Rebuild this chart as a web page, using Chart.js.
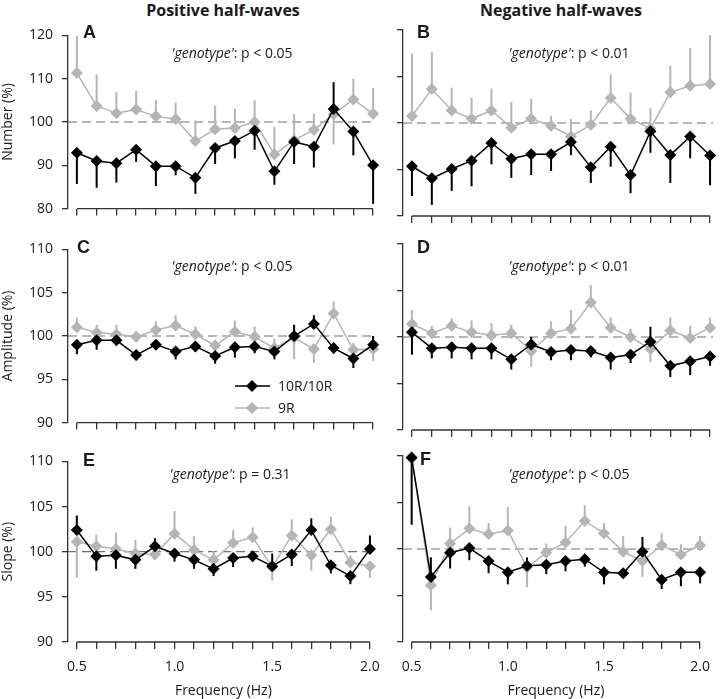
<!DOCTYPE html>
<html>
<head>
<meta charset="utf-8">
<script src="https://cdn.jsdelivr.net/npm/chart.js@4.4.0/dist/chart.umd.min.js"></script>
<style>
  body { margin: 0; background: #fff; }
  #wrap { position: relative; width: 720px; height: 699px; overflow: hidden; font-family: 'Open Sans', sans-serif; color: #1a1a1a; }
  #wrap canvas { position: absolute; }
  .hdr { position: absolute; font-weight: bold; font-size: 16px; transform: translate(-50%, -50%); white-space: nowrap; }
  .letter { position: absolute; font-family: 'Liberation Sans', Arial, sans-serif; font-weight: bold; font-size: 18px; line-height: 18px; }
  .stat { position: absolute; font-size: 14px; transform: translate(-50%, -50%); white-space: nowrap; }
</style>
</head>
<body>
<div id="wrap">
  <div class="hdr" style="left:223px; top:10px;">Positive half-waves</div>
  <div class="hdr" style="left:561px; top:10px;">Negative half-waves</div>

  <canvas id="cA" width="390" height="208" style="left:0; top:18px;"></canvas>
  <canvas id="cB" width="330" height="208" style="left:390px; top:18px;"></canvas>
  <canvas id="cC" width="390" height="208" style="left:0; top:232px;"></canvas>
  <canvas id="cD" width="330" height="208" style="left:390px; top:232px;"></canvas>
  <canvas id="cE" width="390" height="255" style="left:0; top:444px;"></canvas>
  <canvas id="cF" width="330" height="255" style="left:390px; top:444px;"></canvas>

  <div class="letter" style="left:83px; top:23px;">A</div>
  <div class="letter" style="left:417px; top:23px;">B</div>
  <div class="letter" style="left:77px; top:238px;">C</div>
  <div class="letter" style="left:417px; top:238px;">D</div>
  <div class="letter" style="left:83px; top:451px;">E</div>
  <div class="letter" style="left:420px; top:450px;">F</div>

  <div class="stat" style="left:232px; top:52px;"><i>'genotype'</i>: p &lt; 0.05</div>
  <div class="stat" style="left:569px; top:52px;"><i>'genotype'</i>: p &lt; 0.01</div>
  <div class="stat" style="left:232px; top:265px;"><i>'genotype'</i>: p &lt; 0.05</div>
  <div class="stat" style="left:569px; top:265px;"><i>'genotype'</i>: p &lt; 0.01</div>
  <div class="stat" style="left:230px; top:473px;"><i>'genotype'</i>: p = 0.31</div>
  <div class="stat" style="left:569px; top:473px;"><i>'genotype'</i>: p &lt; 0.05</div>
</div>

<script>
const freqs = [0.5, 0.6, 0.7, 0.8, 0.9, 1.0, 1.1, 1.2, 1.3, 1.4, 1.5, 1.6, 1.7, 1.8, 1.9, 2.0];
const freqLabels = [0.5, 1.0, 1.5, 2.0];
const numberTicks = [80, 90, 100, 110, 120];
const percentTicks = [90, 95, 100, 105, 110];
const seriesNames = ['10R/10R', '9R'];

// A: number, positive half-waves
const numPos10R = [92.9, 91.0, 90.5, 93.6, 89.8, 89.8, 87.1, 94.0, 95.6, 98.0, 88.6, 95.4, 94.3, 103.0, 97.8, 90.0];
const numPos10RSem = [7.2, 6.2, 4.5, 2.8, 4.6, 2.1, 3.7, 3.7, 4.0, 4.4, 3.1, 5.1, 4.8, 6.2, 5.5, 8.9];
const numPos9R = [111.3, 103.7, 102.0, 102.9, 101.3, 100.7, 95.6, 98.3, 98.6, 100.0, 92.5, 95.8, 98.2, 101.8, 105.2, 101.9];
const numPos9RSem = [8.6, 7.3, 4.9, 4.3, 3.8, 3.8, 4.8, 5.5, 4.5, 5.0, 6.3, 6.0, 3.7, 7.0, 4.8, 6.0];

// B: number, negative half-waves
const numNeg10R = [90.7, 88.1, 90.1, 91.9, 95.7, 92.3, 93.3, 93.3, 95.9, 90.5, 94.9, 88.8, 98.2, 93.1, 97.1, 93.0];
const numNeg10RSem = [6.4, 5.7, 4.7, 5.5, 4.6, 4.1, 4.5, 3.6, 2.8, 3.4, 4.3, 3.9, 4.6, 6.0, 4.7, 6.4];
const numNeg9R = [101.5, 107.3, 102.7, 100.9, 102.7, 99.0, 100.9, 99.4, 97.1, 99.6, 105.4, 100.9, 98.8, 106.6, 108.0, 108.4];
const numNeg9RSem = [13.4, 7.9, 4.9, 4.5, 4.7, 5.5, 4.3, 2.1, 3.8, 3.1, 5.0, 5.6, 4.4, 5.7, 8.1, 10.5];

// C: amplitude, positive
const ampPos10R = [99.0, 99.5, 99.5, 97.8, 99.0, 98.2, 98.8, 97.7, 98.7, 98.8, 98.2, 100.0, 101.4, 98.6, 97.4, 99.0];
const ampPos10RSem = [1.1, 1.1, 0.4, 0.6, 0.6, 0.9, 0.6, 0.9, 1.2, 0.8, 0.9, 1.3, 1.0, 0.6, 1.1, 1.0];
const ampPos9R = [101.0, 100.4, 100.2, 99.9, 100.7, 101.2, 100.2, 98.9, 100.5, 99.9, 98.6, 99.8, 98.5, 102.6, 98.4, 98.5];
const ampPos9RSem = [1.1, 0.9, 1.1, 0.6, 1.0, 1.2, 0.9, 0.7, 1.3, 1.2, 1.1, 2.5, 1.6, 1.4, 0.8, 1.4];

// D: amplitude, negative
const ampNeg10R = [100.5, 98.8, 98.9, 98.8, 98.8, 97.6, 99.2, 98.4, 98.6, 98.5, 97.8, 98.1, 99.5, 96.9, 97.4, 97.9];
const ampNeg10RSem = [2.4, 1.1, 1.2, 1.2, 1.2, 1.1, 0.8, 0.9, 1.1, 0.7, 1.3, 0.9, 1.6, 1.2, 1.5, 1.0];
const ampNeg9R = [101.4, 100.4, 101.2, 100.5, 100.2, 100.4, 98.5, 100.4, 100.9, 103.7, 101.0, 100.0, 98.7, 100.7, 99.9, 101.0];
const ampNeg9RSem = [1.5, 0.8, 0.8, 1.3, 1.3, 0.9, 1.7, 1.3, 2.0, 1.9, 1.1, 0.9, 1.4, 1.4, 1.3, 1.1];

// E: slope, positive
const slopePos10R = [102.4, 99.5, 99.6, 99.1, 100.6, 99.8, 99.1, 98.1, 99.3, 99.5, 98.4, 99.7, 102.4, 98.5, 97.3, 100.3];
const slopePos10RSem = [1.6, 1.6, 1.5, 1.0, 0.9, 0.9, 1.0, 0.8, 1.0, 0.6, 1.4, 1.3, 1.3, 0.9, 0.9, 1.5];
const slopePos9R = [101.1, 100.6, 100.3, 99.8, 99.7, 102.0, 100.2, 99.1, 101.0, 101.6, 98.3, 101.8, 99.6, 102.5, 98.8, 98.4];
const slopePos9RSem = [4.0, 1.3, 1.8, 1.5, 0.6, 2.5, 1.5, 1.0, 1.4, 1.1, 1.5, 1.8, 1.7, 1.4, 0.8, 1.3];

// F: slope, negative
const slopeNeg10R = [109.8, 97.0, 99.6, 100.1, 98.7, 97.5, 98.2, 98.3, 98.7, 98.9, 97.5, 97.4, 99.7, 96.7, 97.5, 97.5];
const slopeNeg10RSem = [7.2, 2.1, 1.7, 1.3, 1.3, 1.3, 0.9, 1.0, 1.1, 0.8, 1.3, 0.4, 1.6, 1.0, 1.5, 1.2];
const slopeNeg9R = [109.9, 96.1, 100.6, 102.2, 101.6, 102.0, 98.0, 99.6, 100.7, 103.0, 101.7, 99.7, 98.7, 100.4, 99.4, 100.4];
const slopeNeg9RSem = [0.5, 2.7, 1.7, 2.4, 1.2, 2.5, 2.1, 1.0, 1.8, 1.7, 1.1, 1.7, 1.7, 1.3, 1.1, 1.0];

const BLACK = '#000000';
const GRAY = '#b5b5b5';
const AXIS = '#333333';
const TEXT = '#1a1a1a';
const FONT = 'Open Sans';

// error bars point away from the other genotype's curve, dashed 100% line, R-style x axis
const panelDecor = {
    id: 'panelDecor',
    beforeDatasetsDraw(chart) {
        const { ctx, chartArea, scales: { x, y } } = chart;
        ctx.save();

        const y100 = y.getPixelForValue(100);
        ctx.strokeStyle = '#707070';
        ctx.lineWidth = 1.2;
        ctx.setLineDash([9, 5]);
        ctx.beginPath();
        ctx.moveTo(chartArea.left, y100);
        ctx.lineTo(x.getPixelForValue(freqs[freqs.length - 1]) + 3, y100);
        ctx.stroke();
        ctx.setLineDash([]);

        ctx.strokeStyle = AXIS;
        ctx.lineWidth = 1.3;
        ctx.beginPath();
        ctx.moveTo(x.getPixelForValue(freqs[0]), chartArea.bottom);
        ctx.lineTo(x.getPixelForValue(freqs[freqs.length - 1]), chartArea.bottom);
        ctx.stroke();

        const ds = chart.data.datasets;
        [1, 0].forEach(k => {
            const d = ds[k];
            const other = ds[1 - k].data;
            ctx.strokeStyle = d.borderColor;
            ctx.lineWidth = 2;
            d.data.forEach((p, i) => {
                const dir = p.y >= other[i].y ? 1 : -1;
                const px = x.getPixelForValue(p.x);
                ctx.beginPath();
                ctx.moveTo(px, y.getPixelForValue(p.y));
                ctx.lineTo(px, y.getPixelForValue(p.y + dir * d.sem[i]));
                ctx.stroke();
            });
        });
        ctx.restore();
    },
    afterDraw(chart, args, opts) {
        if (!opts.legend) return;
        const { ctx } = chart;
        ctx.save();
        const rows = [{ c: BLACK, y: 386 - 232 }, { c: GRAY, y: 408 - 232 }];
        rows.forEach((r, i) => {
            ctx.strokeStyle = r.c;
            ctx.fillStyle = r.c;
            ctx.lineWidth = 1.5;
            ctx.beginPath();
            ctx.moveTo(235, r.y);
            ctx.lineTo(270, r.y);
            ctx.stroke();
            Chart.helpers.drawPoint(ctx, { pointStyle: 'rectRot', radius: 6, borderWidth: 0 }, 252, r.y);
            ctx.fillStyle = TEXT;
            ctx.font = '14px "Open Sans", sans-serif';
            ctx.textBaseline = 'middle';
            ctx.fillText(seriesNames[i], 278, r.y + 1);
        });
        ctx.restore();
    }
};

function pts(values) {
    return values.map((v, i) => ({ x: freqs[i], y: v }));
}

function makePanel(id, cfg) {
    const ctx = document.getElementById(id).getContext('2d');
    const left = cfg.col === 0;
    const bottomRow = cfg.bottom;
    return new Chart(ctx, {
        type: 'line',
        data: {
            datasets: [
                {
                    label: seriesNames[0],
                    data: pts(cfg.black),
                    sem: cfg.blackSem,
                    borderColor: BLACK,
                    backgroundColor: BLACK,
                    borderWidth: 1.5,
                    pointStyle: 'rectRot',
                    pointRadius: 6,
                    pointBorderWidth: 0,
                    clip: false
                },
                {
                    label: seriesNames[1],
                    data: pts(cfg.gray),
                    sem: cfg.graySem,
                    borderColor: GRAY,
                    backgroundColor: GRAY,
                    borderWidth: 1.5,
                    pointStyle: 'rectRot',
                    pointRadius: 6,
                    pointBorderWidth: 0,
                    clip: false
                }
            ]
        },
        options: {
            responsive: false,
            animation: false,
            layout: { padding: { top: 12, right: left ? 8 : 1, bottom: 0, left: 0 }, autoPadding: false },
            plugins: {
                legend: { display: false },
                tooltip: { enabled: false },
                panelDecor: { legend: !!cfg.legend }
            },
            scales: {
                x: {
                    type: 'linear',
                    min: 0.455,
                    max: 2.045,
                    afterBuildTicks: s => { s.ticks = freqs.map(v => ({ value: v })); },
                    afterFit: s => { s.height = bottomRow ? 57 : 10; },
                    ticks: {
                        display: bottomRow,
                        autoSkip: false,
                        maxRotation: 0,
                        padding: 10,
                        color: TEXT,
                        font: { family: FONT, size: 14 },
                        callback: v => freqLabels.some(f => Math.abs(f - v) < 1e-6) ? v.toFixed(1) : ''
                    },
                    grid: { display: true, drawOnChartArea: false, drawTicks: true, tickLength: 7, color: AXIS, lineWidth: 1.3 },
                    border: { display: false },
                    title: {
                        display: bottomRow,
                        text: 'Frequency (Hz)',
                        color: TEXT,
                        font: { family: FONT, size: 14 },
                        padding: { top: 0, bottom: 0 }
                    }
                },
                y: {
                    min: cfg.yTicks[0],
                    max: cfg.yTicks[cfg.yTicks.length - 1],
                    afterBuildTicks: s => { s.ticks = cfg.yTicks.map(v => ({ value: v })); },
                    afterFit: s => { s.width = left ? 68 : 13; },
                    ticks: {
                        display: left,
                        padding: 9,
                        color: TEXT,
                        font: { family: FONT, size: 14 }
                    },
                    grid: { display: true, drawOnChartArea: false, drawTicks: true, tickLength: 6, color: AXIS, lineWidth: 1.3 },
                    border: { display: true, color: AXIS, width: 1.3 },
                    title: {
                        display: left,
                        text: cfg.yTitle,
                        color: TEXT,
                        font: { family: FONT, size: 14 },
                        padding: { top: 0, bottom: 0 }
                    }
                }
            }
        },
        plugins: [panelDecor]
    });
}

makePanel('cA', { col: 0, bottom: false, black: numPos10R, blackSem: numPos10RSem, gray: numPos9R, graySem: numPos9RSem, yTicks: numberTicks, yTitle: 'Number (%)' });
makePanel('cB', { col: 1, bottom: false, black: numNeg10R, blackSem: numNeg10RSem, gray: numNeg9R, graySem: numNeg9RSem, yTicks: numberTicks });
makePanel('cC', { col: 0, bottom: false, black: ampPos10R, blackSem: ampPos10RSem, gray: ampPos9R, graySem: ampPos9RSem, yTicks: percentTicks, yTitle: 'Amplitude (%)', legend: true });
makePanel('cD', { col: 1, bottom: false, black: ampNeg10R, blackSem: ampNeg10RSem, gray: ampNeg9R, graySem: ampNeg9RSem, yTicks: percentTicks });
makePanel('cE', { col: 0, bottom: true, black: slopePos10R, blackSem: slopePos10RSem, gray: slopePos9R, graySem: slopePos9RSem, yTicks: percentTicks, yTitle: 'Slope (%)' });
makePanel('cF', { col: 1, bottom: true, black: slopeNeg10R, blackSem: slopeNeg10RSem, gray: slopeNeg9R, graySem: slopeNeg9RSem, yTicks: percentTicks });
</script>
</body>
</html>
